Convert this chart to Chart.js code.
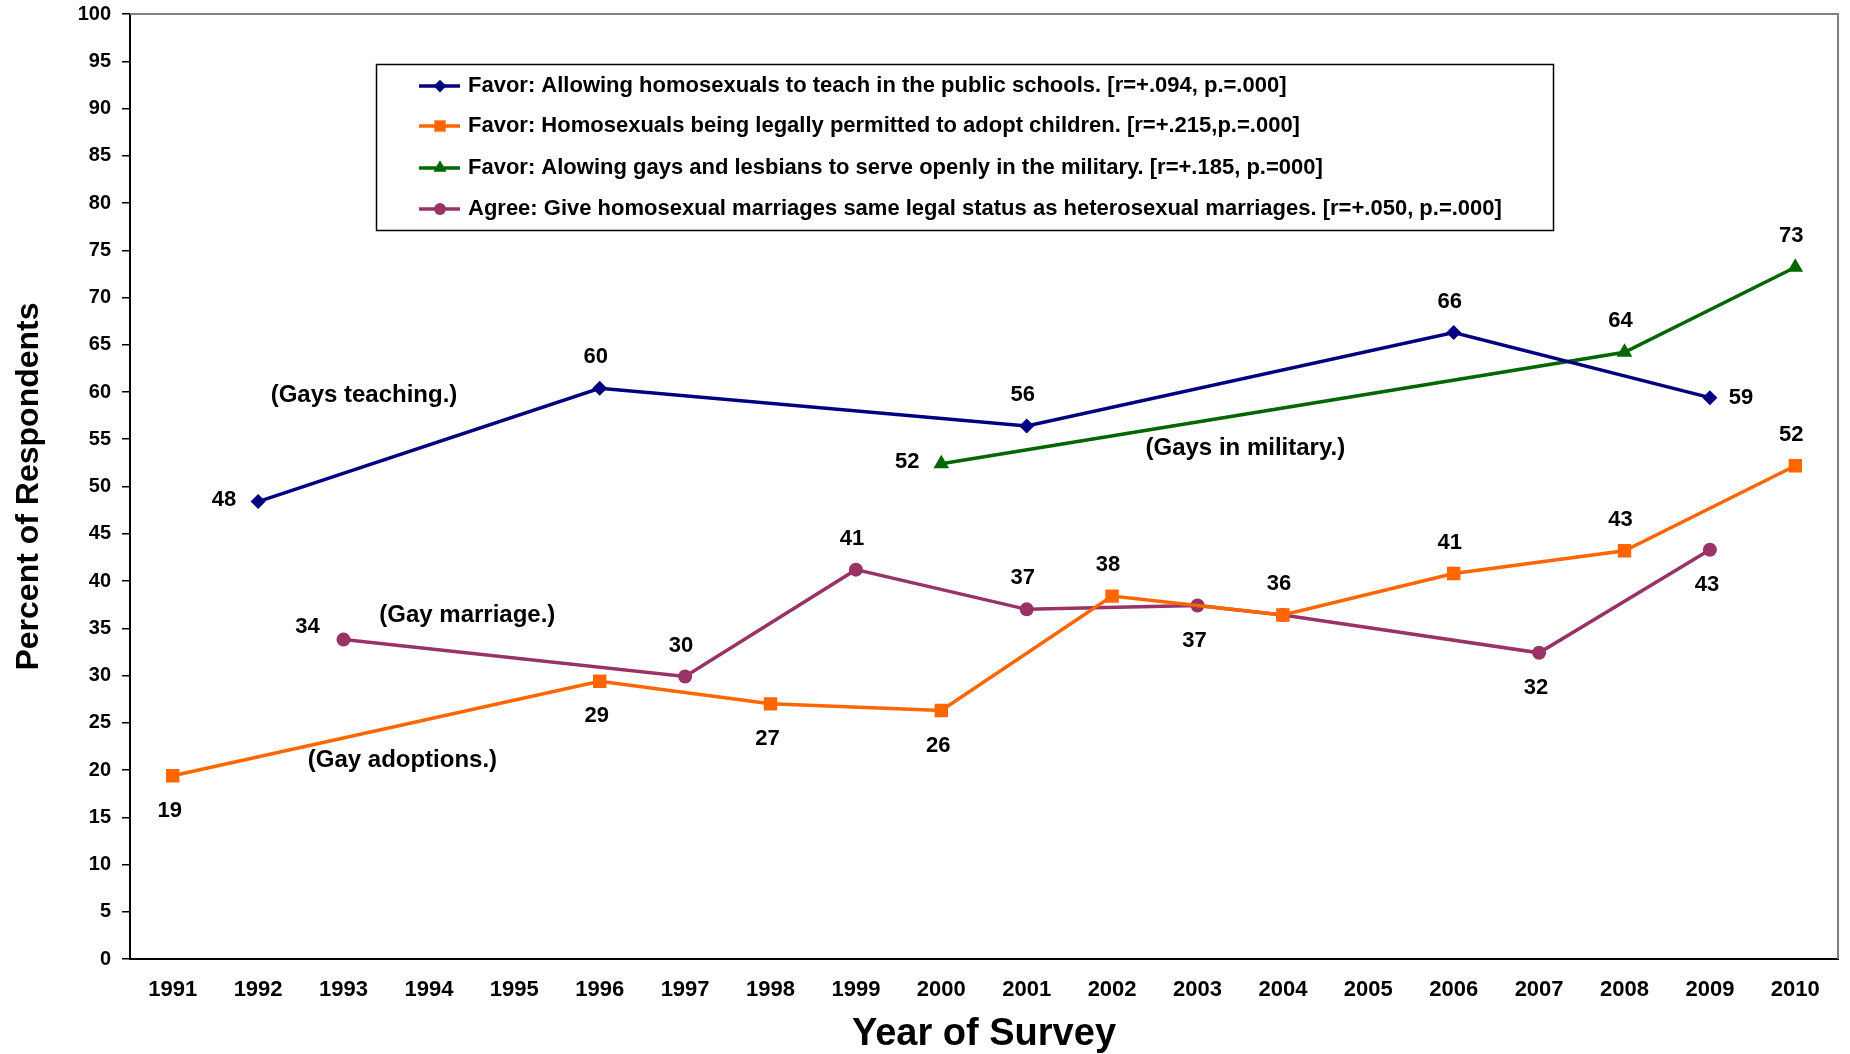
<!DOCTYPE html>
<html>
<head>
<meta charset="utf-8">
<script src="https://cdn.jsdelivr.net/npm/chart.js@4.4.1/dist/chart.umd.min.js"></script>
<style>
html,body{margin:0;padding:0;background:#fff;}
#wrap{width:1850px;height:1054px;position:relative;}
</style>
</head>
<body>
<div id="wrap"><canvas id="c"></canvas></div>
<script>
// ---- data ----
const years = ['1991','1992','1993','1994','1995','1996','1997','1998','1999','2000',
               '2001','2002','2003','2004','2005','2006','2007','2008','2009','2010'];
const teachValues    = [null, 48.4, null, null, null, 60.4, null, null, null, null,
                        56.4, null, null, null, null, 66.3, null, null, 59.4, null];
const adoptValues    = [19.4, null, null, null, null, 29.4, null, 27.0, null, 26.3,
                        null, 38.4, null, 36.4, null, 40.8, null, 43.2, null, 52.2];
const militaryValues = [null, null, null, null, null, null, null, null, null, 52.4,
                        null, null, null, null, null, null, null, 64.2, null, 73.2];
const marriageValues = [null, null, 33.8, null, null, null, 29.9, null, 41.2, null,
                        37.0, null, 37.4, 36.4, null, null, 32.4, null, 43.3, null];
const seriesNames = [
  'Favor: Allowing homosexuals to teach in the public schools. [r=+.094, p.=.000]',
  'Favor: Homosexuals being legally permitted to adopt children. [r=+.215,p.=.000]',
  'Favor: Alowing gays and lesbians to serve openly in the military. [r=+.185, p.=000]',
  'Agree: Give homosexual marriages same legal status as heterosexual marriages. [r=+.050, p.=.000]'
];
const yTickStep = 5, yMin = 0, yMax = 100;
const xTitle = 'Year of Survey';
const yTitle = 'Percent of Respondents';

// label placement per plotted point (t=top, b=bottom, l=left, r=right, tl=upper-left, null=none)
const teachLabelPos    = ['l','t','t','t','r'];
const adoptLabelPos    = ['b','b','b','b','t','t','t','t','t'];
const militaryLabelPos = ['l','t','t'];
const marriageLabelPos = ['tl','t','t','t','b',null,'b','b'];

// free-text annotations placed in data coordinates (category index, value)
const annotations = [
  {text:'(Gays teaching.)',   xi:2.24,  v:59.6},
  {text:'(Gays in military.)',xi:12.56, v:54.0},
  {text:'(Gay marriage.)',    xi:3.45,  v:36.4},
  {text:'(Gay adoptions.)',   xi:2.69,  v:21.0}
];

const FONT = "'Liberation Sans', Arial, Helvetica, sans-serif";
const COLORS = ['#000080','#FF6600','#006600','#993366'];
const STYLES = ['rectRot','rect','triangle','circle'];
const RADII  = [7.5, 9.5, 9, 7];

function mkDs(i, data, pos){
  return {
    label: seriesNames[i], data: data, labelPos: pos,
    borderColor: COLORS[i], backgroundColor: COLORS[i],
    pointBackgroundColor: COLORS[i], pointBorderColor: COLORS[i],
    pointStyle: STYLES[i], pointRadius: RADII[i], pointBorderWidth: 0,
    borderWidth: 3.5, spanGaps: true, tension: 0
  };
}

const framePlugin = {
  id:'frame',
  beforeDatasetsDraw(chart){
    const {ctx, chartArea:a} = chart;
    ctx.save();
    ctx.strokeStyle = '#808080'; ctx.lineWidth = 2;
    ctx.beginPath(); ctx.moveTo(a.left, a.top); ctx.lineTo(a.right, a.top); ctx.lineTo(a.right, a.bottom); ctx.stroke();
    ctx.restore();
  }
};

const labelPlugin = {
  id:'pointLabels',
  afterDatasetsDraw(chart){
    const ctx = chart.ctx;
    ctx.save();
    ctx.fillStyle = '#000'; ctx.textAlign = 'center'; ctx.textBaseline = 'middle';
    ctx.font = `bold 22px ${FONT}`;
    chart.data.datasets.forEach((ds, di) => {
      const meta = chart.getDatasetMeta(di);
      let k = 0;
      ds.data.forEach((v, i) => {
        if (v === null) return;
        const pos = ds.labelPos[k++];
        if (!pos) return;
        const el = meta.data[i];
        let x = el.x, y = el.y;
        if (pos === 't') { y -= 31; x -= 4; }
        else if (pos === 'b') { y += 35; x -= 3; }
        else if (pos === 'l') { x -= 34; y -= 2; }
        else if (pos === 'r') { x += 31; }
        else if (pos === 'tl') { x -= 36; y -= 13; }
        ctx.fillText(String(Math.round(v)), x, y);
      });
    });
    // annotations
    ctx.font = `bold 24px ${FONT}`;
    const xs = chart.scales.x, ys = chart.scales.y;
    annotations.forEach(a => {
      ctx.fillText(a.text, xs.getPixelForValue(a.xi), ys.getPixelForValue(a.v));
    });
    ctx.restore();
  }
};

const legendPlugin = {
  id:'boxLegend',
  afterDraw(chart){
    const ctx = chart.ctx;
    ctx.save();
    const bx = 376, by = 64, bw = 1177, bh = 166;
    ctx.fillStyle = '#fff'; ctx.fillRect(bx, by, bw, bh);
    ctx.strokeStyle = '#000'; ctx.lineWidth = 1.5; ctx.strokeRect(bx + 0.5, by + 0.5, bw, bh);
    const rows = [86, 126, 168, 209];
    ctx.font = `bold 22px ${FONT}`;
    ctx.textBaseline = 'middle'; ctx.textAlign = 'left';
    chart.data.datasets.forEach((ds, i) => {
      const y = rows[i];
      ctx.strokeStyle = ds.borderColor; ctx.lineWidth = 3.5;
      ctx.beginPath(); ctx.moveTo(419, y); ctx.lineTo(460, y); ctx.stroke();
      ctx.fillStyle = ds.borderColor; ctx.strokeStyle = ds.borderColor;
      Chart.helpers.drawPoint(ctx, {pointStyle: ds.pointStyle, radius: ds.pointRadius * 0.85, borderWidth: 0, rotation: 0}, 440, y);
      ctx.fillStyle = '#000';
      ctx.fillText(ds.label, 468, y);
    });
    ctx.restore();
  }
};

new Chart(document.getElementById('c'), {
  type: 'line',
  data: {
    labels: years,
    datasets: [
      mkDs(0, teachValues, teachLabelPos),
      mkDs(1, adoptValues, adoptLabelPos),
      mkDs(2, militaryValues, militaryLabelPos),
      mkDs(3, marriageValues, marriageLabelPos)
    ]
  },
  options: {
    responsive: true, maintainAspectRatio: false, animation: false,
    layout: {padding: {top: 14, right: 12, left: 0, bottom: 0}},
    plugins: {legend: {display: false}, tooltip: {enabled: false}},
    scales: {
      x: {
        type: 'category', offset: true,
        grid: {display: false, drawTicks: false},
        border: {display: true, color: '#000', width: 2},
        ticks: {color: '#000', font: {family: FONT, size: 22, weight: 'bold'}, padding: 18, maxRotation: 0, autoSkip: false},
        title: {display: true, text: xTitle, color: '#000', font: {family: FONT, size: 38, weight: 'bold', lineHeight: 1}, padding: {top: 0, bottom: 0}},
        afterFit(s){ s.height = 95; s.paddingLeft = 0; s.paddingRight = 0; }
      },
      y: {
        min: yMin, max: yMax,
        grid: {display: true, drawOnChartArea: false, drawTicks: true, tickLength: 8, color: '#000', lineWidth: 1.5},
        border: {display: true, color: '#000', width: 2},
        ticks: {stepSize: yTickStep, color: '#000', font: {family: FONT, size: 20, weight: 'bold'}, padding: 11},
        title: {display: true, text: yTitle, color: '#000', font: {family: FONT, size: 32, weight: 'bold', lineHeight: 1}, padding: {top: 13, bottom: 0}},
        afterFit(s){ s.width = 130; s.paddingTop = 0; s.paddingBottom = 0; }
      }
    }
  },
  plugins: [framePlugin, labelPlugin, legendPlugin]
});
</script>
</body>
</html>
